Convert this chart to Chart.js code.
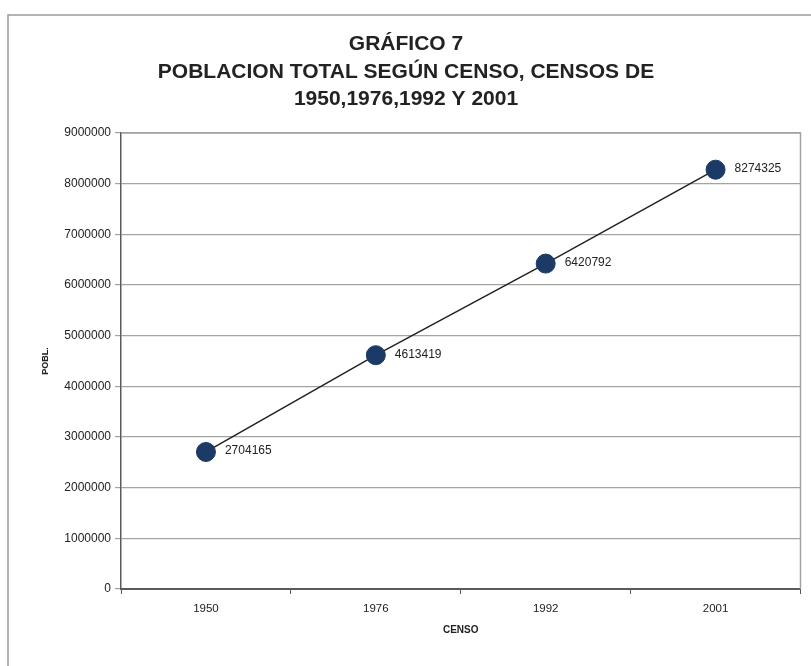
<!DOCTYPE html>
<html lang="es">
<head>
<meta charset="utf-8">
<title>Gráfico 7 - Población total según censo</title>
<script src="https://cdn.jsdelivr.net/npm/chart.js@4.4.1/dist/chart.umd.min.js"></script>
<style>
    html, body { margin: 0; padding: 0; background: #ffffff; }
    #wrap { width: 811px; height: 666px; }
</style>
</head>
<body>
<div id="wrap"><canvas id="grafico7" width="811" height="666"></canvas></div>
<script>
'use strict';

// ── Datos de los censos ──────────────────────────────────────────────────────
var CENSOS     = ['1950', '1976', '1992', '2001'];
var POBLACION  = [2704165, 4613419, 6420792, 8274325];
var TITULO     = ['GRÁFICO 7', 'POBLACION TOTAL SEGÚN CENSO, CENSOS DE', '1950,1976,1992 Y 2001'];
var EJE_Y_MAX  = 9000000;
var EJE_Y_PASO = 1000000;

// ── Colores ──────────────────────────────────────────────────────────────────
var COL = {
    punto:  '#1b3a66',
    linea:  '#222222',
    texto:  '#222222',
    grilla: '#a3a3a3',
    eje:    '#5a5a5a',
    marco:  '#9a9a9a'
};

var FUENTE = "'Liberation Sans', Arial, sans-serif";

// ── Plugin: marco de la hoja y borde derecho del área de trazado ─────────────
var marcoPlugin = {
    id: 'marco',
    beforeDraw: function (chart) {
        var ctx = chart.ctx;
        ctx.save();
        ctx.fillStyle = '#ffffff';
        ctx.fillRect(0, 0, chart.width, chart.height);
        ctx.strokeStyle = COL.marco;
        ctx.lineWidth = 1.5;
        ctx.beginPath();
        ctx.moveTo(8, chart.height);
        ctx.lineTo(8, 15);
        ctx.lineTo(chart.width, 15);
        ctx.stroke();
        ctx.restore();
    },
    afterDraw: function (chart) {
        var ctx = chart.ctx;
        var a = chart.chartArea;
        ctx.save();
        ctx.strokeStyle = COL.grilla;
        ctx.lineWidth = 1.5;
        ctx.beginPath();
        ctx.moveTo(a.left, a.top);
        ctx.lineTo(a.right, a.top);
        ctx.lineTo(a.right, a.bottom);
        ctx.stroke();
        ctx.restore();
    }
};

// ── Plugin: valor de cada punto a su derecha ─────────────────────────────────
var etiquetasPlugin = {
    id: 'etiquetas',
    afterDatasetsDraw: function (chart) {
        var ctx = chart.ctx;
        var meta = chart.getDatasetMeta(0);
        var datos = chart.data.datasets[0].data;
        ctx.save();
        ctx.font = '12px ' + FUENTE;
        ctx.fillStyle = COL.texto;
        ctx.textAlign = 'left';
        ctx.textBaseline = 'middle';
        meta.data.forEach(function (pt, i) {
            ctx.fillText(String(datos[i]), pt.x + 19, pt.y - 1);
        });
        ctx.restore();
    }
};

new Chart(document.getElementById('grafico7').getContext('2d'), {
    type: 'line',
    data: {
        labels: CENSOS,
        datasets: [{
            label: 'POBL.',
            data: POBLACION,
            borderColor: COL.linea,
            borderWidth: 1.5,
            tension: 0,
            fill: false,
            pointRadius: 9.5,
            pointBackgroundColor: COL.punto,
            pointBorderColor: COL.punto,
            pointBorderWidth: 1
        }]
    },
    options: {
        responsive: false,
        animation: false,
        layout: { padding: { top: 16, right: 9, bottom: 0, left: 10 } },
        plugins: {
            legend: { display: false },
            tooltip: { enabled: false },
            title: {
                display: true,
                text: TITULO,
                color: COL.texto,
                font: { family: FUENTE, size: 21, weight: 'bold', lineHeight: 1.3 },
                padding: { top: 15, bottom: 20 }
            }
        },
        scales: {
            x: {
                offset: true,
                afterFit: function (scale) { scale.height = 77; },
                grid: {
                    offset: true,
                    drawOnChartArea: false,
                    drawTicks: true,
                    tickLength: 5,
                    color: COL.eje
                },
                border: { color: COL.eje, width: 2 },
                ticks: {
                    color: COL.texto,
                    padding: 8,
                    font: { family: FUENTE, size: 11.5 }
                },
                title: {
                    display: true,
                    text: 'CENSO',
                    color: COL.texto,
                    font: { family: FUENTE, size: 10, weight: 'bold' },
                    padding: { top: 0, bottom: 30 }
                }
            },
            y: {
                min: 0,
                max: EJE_Y_MAX,
                afterFit: function (scale) { scale.width = 111; },
                grid: {
                    color: COL.grilla,
                    lineWidth: 1.2,
                    tickLength: 6
                },
                border: { color: COL.eje, width: 1.5 },
                ticks: {
                    stepSize: EJE_Y_PASO,
                    color: COL.texto,
                    padding: 4,
                    font: { family: FUENTE, size: 12 },
                    callback: function (v) { return String(v); }
                },
                title: {
                    display: true,
                    text: 'POBL.',
                    color: COL.texto,
                    font: { family: FUENTE, size: 9, weight: 'bold' },
                    padding: { top: 30, bottom: 0 }
                }
            }
        }
    },
    plugins: [marcoPlugin, etiquetasPlugin]
});
</script>
</body>
</html>
